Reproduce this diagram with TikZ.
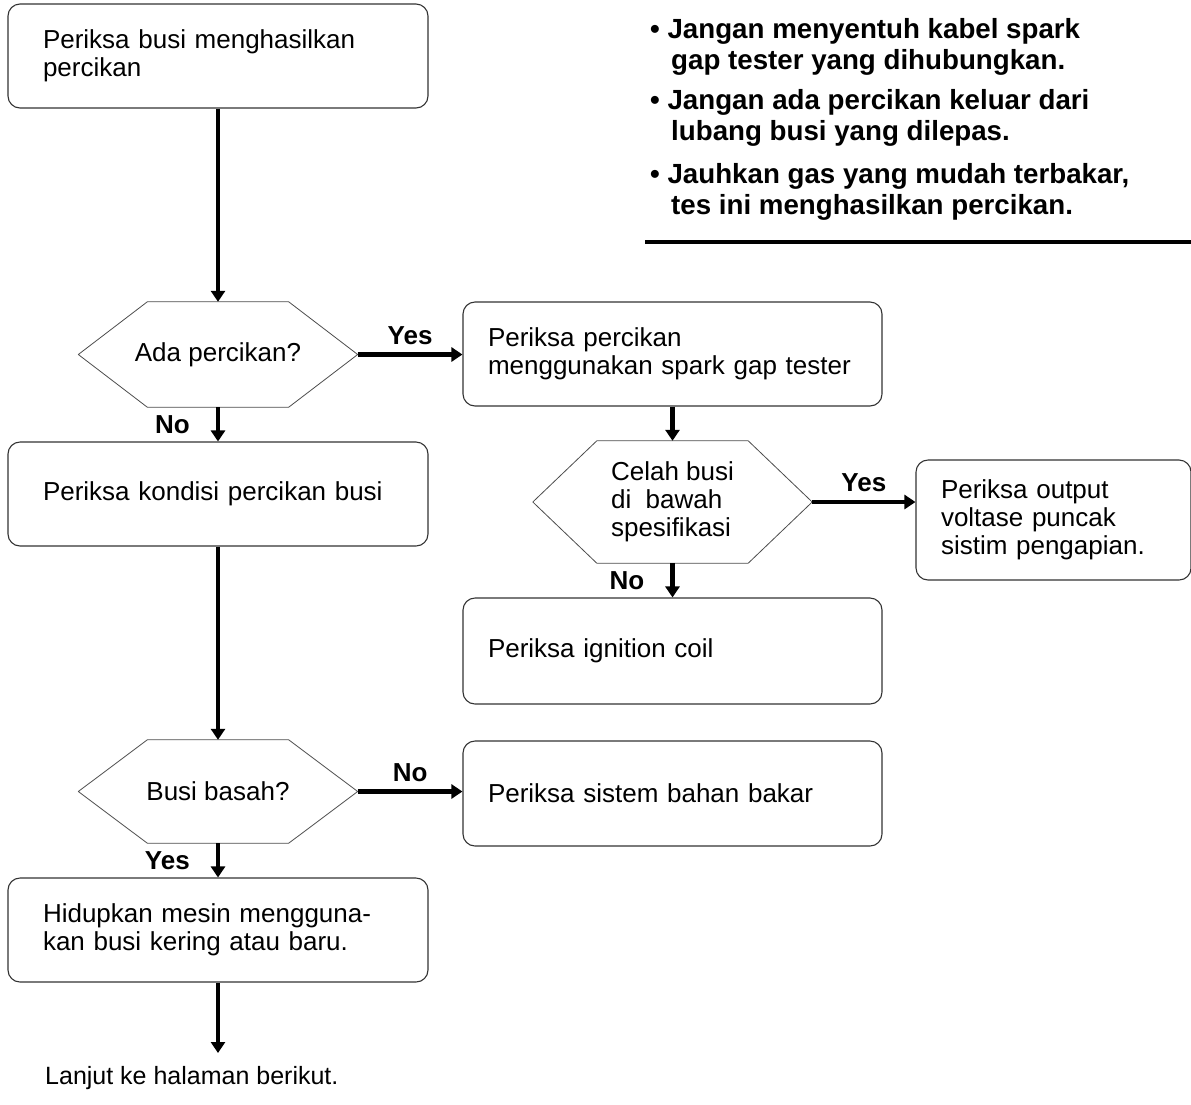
\documentclass[tikz,border=0pt]{standalone}
\usepackage{fontspec}
\setmainfont{Liberation Sans}
\usetikzlibrary{arrows.meta,positioning,calc}

\newcommand{\drawhex}[2]{%
  \draw[hexline] (#1.west) -- ([xshift=#2]#1.north west) -- ([xshift=-#2]#1.north east)
    -- (#1.east) -- ([xshift=-#2]#1.south east) -- ([xshift=#2]#1.south west) -- cycle;}

\tikzset{
  txt/.style={font=\fontsize{26}{28}\selectfont},
  box/.style={txt, draw=black!80, line width=1.1pt, rounded corners=12pt,
    minimum height=104pt, inner ysep=0pt, align=left},
  widebox/.style={box, inner xsep=35pt, text width=350pt},
  rbox/.style={box, inner xsep=25pt, text width=369pt},
  decision/.style={txt, minimum width=279pt, inner sep=0pt, align=left},
  hexline/.style={draw=black!70, line width=0.8pt},
  arr/.style={line width=4.5pt, -{Triangle[length=11pt,width=14pt]}},
  lbl/.style={font=\fontsize{26}{28}\selectfont\bfseries, inner sep=2pt}
}

\begin{document}
\begin{tikzpicture}[x=1pt, y=-1pt, line join=round]
  \useasboundingbox (0,0) rectangle (1191,1104);

  % Kolom kiri
  \node[widebox] (cekbusi) at (218,56) {Periksa busi menghasilkan\\percikan};
  \node[decision, minimum height=105pt] (adapercikan) at (218,354.5) {Ada percikan?};
  \node[widebox] (kondisi) at (218,494) {Periksa kondisi percikan busi};
  \node[decision, minimum height=103pt] (basah) at (218,791.5) {Busi basah?};
  \node[widebox] (hidupkan) at (218,930) {Hidupkan mesin mengguna-\\kan busi kering atau baru.};
  \node[font=\fontsize{25}{28}\selectfont, anchor=west, inner sep=0pt] (lanjut) at (45,1078)
    {Lanjut ke halaman berikut.};
  \coordinate (lanjutpanah) at (218,1053);

  % Kolom kanan
  \node[rbox] (gaptester) at (672.5,354) {Periksa percikan\\menggunakan spark gap tester};
  \node[decision, minimum height=122pt] (celah) at (672.5,502) {Celah busi\\di\ \ bawah\\spesifikasi};
  \node[rbox, minimum height=106pt] (coil) at (672.5,651) {Periksa ignition coil};
  \node[box, inner xsep=25pt, text width=225pt, minimum height=120pt] (output) at (1053.5,520)
    {Periksa output\\voltase puncak\\sistim pengapian.};
  \node[rbox, minimum height=105pt] (bahanbakar) at (672.5,793.5) {Periksa sistem bahan bakar};

  % Segi enam
  \drawhex{adapercikan}{69pt}
  \drawhex{celah}{64pt}
  \drawhex{basah}{69pt}

  % Panah
  \draw[arr] (cekbusi) -- (adapercikan);
  \draw[arr] (adapercikan.east) -- node[lbl, above=6pt] {Yes} (gaptester.west |- adapercikan.east);
  \draw[arr] (adapercikan) -- node[lbl, left=24pt] {No} (kondisi);
  \draw[arr] (gaptester) -- (celah);
  \draw[arr] (celah.east) -- node[lbl, above=6pt] {Yes} (output.west |- celah.east);
  \draw[arr] (celah) -- node[lbl, left=24pt] {No} (coil);
  \draw[arr] (kondisi) -- (basah);
  \draw[arr] (basah.east) -- node[lbl, above=6pt] {No} (bahanbakar.west |- basah.east);
  \draw[arr] (basah) -- node[lbl, left=24pt] {Yes} (hidupkan);
  \draw[arr] (hidupkan.south) -- (lanjutpanah);

  % Catatan
  \node[anchor=north west, inner sep=0pt, align=left,
        font=\fontsize{27.7}{31}\selectfont\bfseries] (catatan) at (650,18)
    {\textbullet\ Jangan menyentuh kabel spark\\
     \hspace*{21pt}gap tester yang dihubungkan.\\[9pt]
     \textbullet\ Jangan ada percikan keluar dari\\
     \hspace*{21pt}lubang busi yang dilepas.\\[12pt]
     \textbullet\ Jauhkan gas yang mudah terbakar,\\
     \hspace*{21pt}tes ini menghasilkan percikan.};
  \coordinate (garisA) at (645,242);
  \coordinate (garisB) at (1191,242);
  \draw[line width=4pt] (garisA) -- (garisB);
\end{tikzpicture}
\end{document}
